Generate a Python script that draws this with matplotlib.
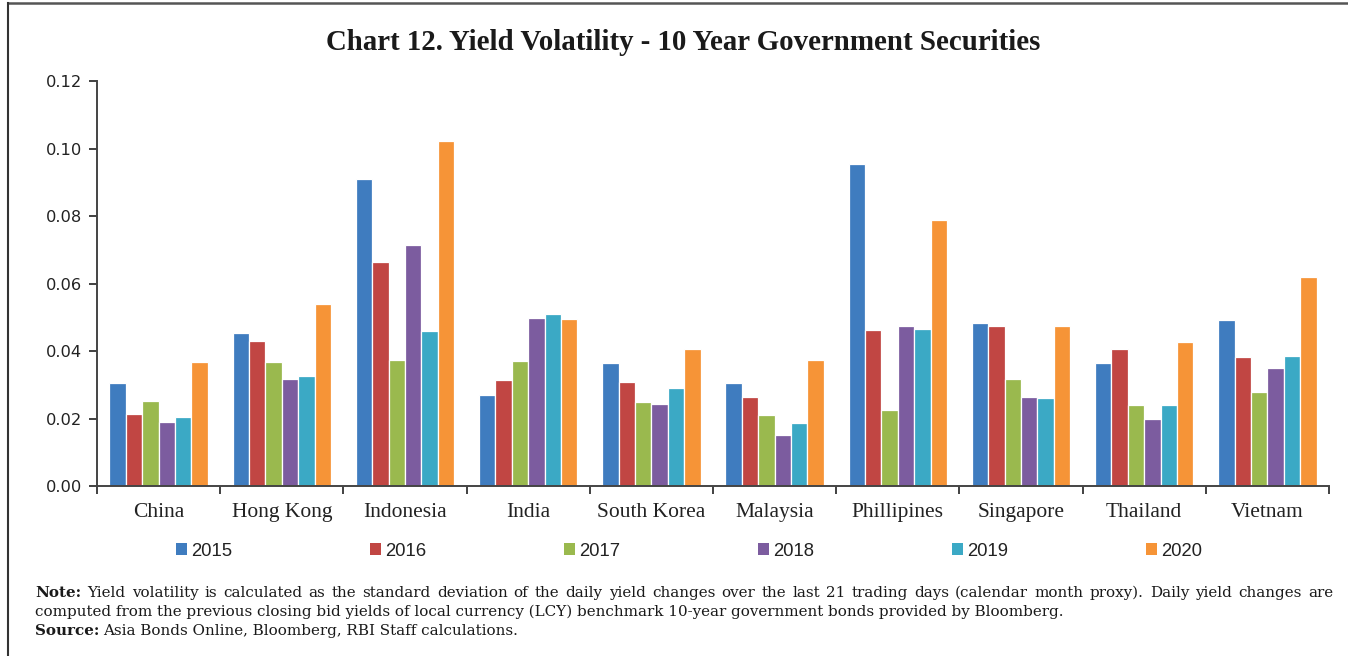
import matplotlib
matplotlib.use("Agg")
import matplotlib.pyplot as plt
import numpy as np
from matplotlib.lines import Line2D

countries = ["China", "Hong Kong", "Indonesia", "India", "South Korea",
             "Malaysia", "Phillipines", "Singapore", "Thailand", "Vietnam"]
years = ["2015", "2016", "2017", "2018", "2019", "2020"]

v2015 = [0.0305, 0.0454, 0.0911, 0.0270, 0.0366, 0.0305, 0.0955, 0.0483, 0.0364, 0.0492]
v2016 = [0.0214, 0.0430, 0.0663, 0.0315, 0.0310, 0.0264, 0.0463, 0.0475, 0.0407, 0.0383]
v2017 = [0.0253, 0.0367, 0.0373, 0.0370, 0.0249, 0.0212, 0.0226, 0.0319, 0.0240, 0.0279]
v2018 = [0.0191, 0.0319, 0.0714, 0.0498, 0.0244, 0.0153, 0.0474, 0.0263, 0.0198, 0.0350]
v2019 = [0.0205, 0.0327, 0.0460, 0.0510, 0.0291, 0.0187, 0.0465, 0.0261, 0.0242, 0.0387]
v2020 = [0.0369, 0.0541, 0.1023, 0.0495, 0.0407, 0.0373, 0.0789, 0.0475, 0.0426, 0.0621]
series = [v2015, v2016, v2017, v2018, v2019, v2020]

colors = ["#3F7CBF", "#C14643", "#9AB94E", "#7C5C9F", "#3BA9C5", "#F69437"]

title = "Chart 12. Yield Volatility - 10 Year Government Securities"
note_bold = "Note:"
note_text1 = ("Yield volatility is calculated as the standard deviation of the daily yield changes "
              "over the last 21 trading days (calendar month proxy). Daily yield changes are")
note_text2 = ("computed from the previous closing bid yields of local currency (LCY) benchmark "
              "10-year government bonds provided by Bloomberg.")
src_bold = "Source:"
src_text = "Asia Bonds Online, Bloomberg, RBI Staff calculations."

W, H = 1348, 656
fig = plt.figure(figsize=(W / 100, H / 100), dpi=100)
ax = fig.add_axes([97 / W, 1 - 486.3 / H, (1329 - 97) / W, (486.3 - 81) / H])

x = np.arange(len(countries))
bw = 0.133
for j, (vals, c, yr) in enumerate(zip(series, colors, years)):
    ax.bar(x + (j - 2.5) * bw, vals, width=bw, color=c, edgecolor="white",
           linewidth=0.9, label=yr, zorder=2)

ax.set_xlim(-0.5, len(countries) - 0.5)
ax.set_ylim(0, 0.12)
yt = np.arange(0, 0.1201, 0.02)
ax.set_yticks(yt)
ax.set_yticklabels([f"{t:.2f}" for t in yt],
                   fontfamily="DejaVu Sans", fontsize=11.7, color="#222222")
ax.set_xticks(x)
ax.set_xticklabels(countries, fontfamily="Liberation Serif", fontsize=15.5, color="#222222")
ax.set_xticks(np.arange(-0.5, len(countries), 1.0), minor=True)
ax.tick_params(axis="x", which="major", length=0, pad=12)
ax.tick_params(axis="x", which="minor", length=6, width=1.3, color="#333333", direction="out")
ax.tick_params(axis="y", length=6, width=1.3, color="#333333", direction="out", pad=5)

for s in ["top", "right"]:
    ax.spines[s].set_visible(False)
for s in ["left", "bottom"]:
    ax.spines[s].set_color("#444444")
    ax.spines[s].set_linewidth(1.4)

leg = ax.legend(loc="center", bbox_to_anchor=(689 / W, 1 - 551 / H),
                bbox_transform=fig.transFigure, ncol=6, frameon=False,
                prop={"family": "Liberation Sans", "size": 13.3},
                handlelength=0.58, handleheight=0.58, handletextpad=0.25,
                columnspacing=7.45, borderpad=0, borderaxespad=0)
for t in leg.get_texts():
    t.set_color("#222222")
for h in leg.legend_handles:
    h.set_edgecolor("none")

fig.text(683 / W, 1 - 42 / H, title, ha="center", va="center",
         fontfamily="Liberation Serif", fontweight="bold", fontsize=20.8, color="#1a1a1a")

note_fs = 10.9
note_font = "DejaVu Serif"
renderer = fig.canvas.get_renderer()

# justified first line of the note
x0_px, x1_px = 35.0, 1333.0
words = [(note_bold, "bold")] + [(w, "normal") for w in note_text1.split(" ")]
texts = []
widths = []
for w, wt in words:
    t = fig.text(0, 1 - 597 / H, w, ha="left", va="baseline", fontfamily=note_font,
                 fontweight=wt, fontsize=note_fs, color="#1a1a1a")
    texts.append(t)
    widths.append(t.get_window_extent(renderer).width)
gap = (x1_px - x0_px - sum(widths)) / (len(words) - 1)
cur = x0_px
for t, wd in zip(texts, widths):
    t.set_x(cur / W)
    cur += wd + gap

fig.text(35 / W, 1 - 616 / H, note_text2, ha="left", va="baseline",
         fontfamily=note_font, fontsize=note_fs, color="#1a1a1a")
sb = fig.text(35 / W, 1 - 635 / H, src_bold, ha="left", va="baseline",
              fontfamily=note_font, fontweight="bold", fontsize=note_fs, color="#1a1a1a")
ax.annotate(src_text, xy=(1, 0), xycoords=sb, xytext=(3, 0), textcoords="offset points",
            ha="left", va="bottom", fontfamily=note_font, fontsize=note_fs,
            color="#1a1a1a", annotation_clip=False)

# outer frame (top and left edges)
fig.add_artist(Line2D([7.5 / W, 1], [1 - 3 / H, 1 - 3 / H], transform=fig.transFigure,
                      color="#555555", linewidth=1.8))
fig.add_artist(Line2D([7.5 / W, 7.5 / W], [0, 1 - 3 / H], transform=fig.transFigure,
                      color="#333333", linewidth=1.5))

fig.savefig("out.png", dpi=100)
